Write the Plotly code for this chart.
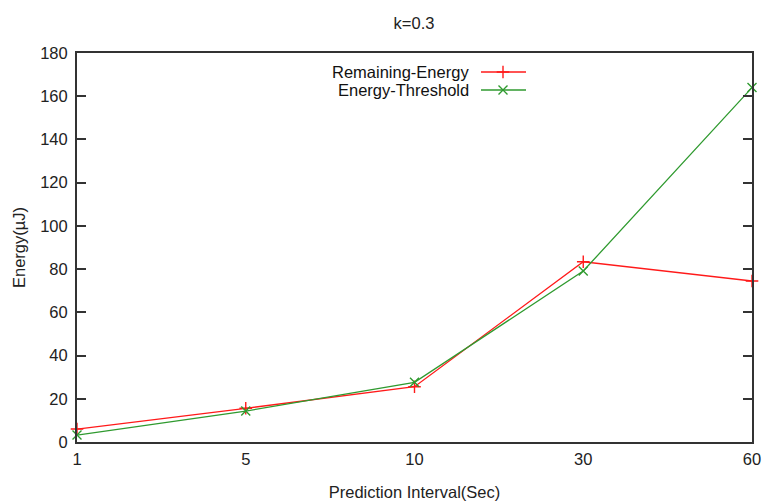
import plotly.graph_objects as go

categories = ["1", "5", "10", "30", "60"]
remaining_energy = [6.0, 15.6, 25.6, 83.4, 74.5]
energy_threshold = [3.2, 14.3, 27.6, 79.1, 164.0]
y_ticks = [0, 20, 40, 60, 80, 100, 120, 140, 160, 180]
series_names = ["Remaining-Energy", "Energy-Threshold"]

RED = "#ff1a1a"
GREEN = "#2f9a2f"
FONT = "Liberation Sans, Arial, sans-serif"
FS = 16.5

# body margin is removed by the post script, so the figure starts at the page corner
OFF = 0
FIG_W, FIG_H = 763, 501

fig = go.Figure()
fig.add_trace(go.Scatter(
    x=categories, y=remaining_energy, mode="lines+markers", name=series_names[0],
    line=dict(color=RED, width=1.3),
    marker=dict(symbol="cross-thin", size=9, line=dict(color=RED, width=1.4)),
    showlegend=False, cliponaxis=False))
fig.add_trace(go.Scatter(
    x=categories, y=energy_threshold, mode="lines+markers", name=series_names[1],
    line=dict(color=GREEN, width=1.3),
    marker=dict(symbol="x-thin", size=9, line=dict(color=GREEN, width=1.4)),
    showlegend=False, cliponaxis=False))

# legend (gnuplot style: text right-aligned, sample on its right)
# plot area spans x 77..752 and y 53..442 in page pixels
def px_x(p):
    return (p - 77) / (752 - 77)

def px_y(p):
    return (442 - p) / (442 - 53)

leg_rows = [72, 90]
for name, col, sym, row in zip(series_names, [RED, GREEN], ["cross-thin", "x-thin"], leg_rows):
    ly = px_y(row)
    fig.add_trace(go.Scatter(
        x=[px_x(481), px_x(526)], y=[ly, ly], xaxis="x2", yaxis="y2", mode="lines",
        line=dict(color=col, width=1.3), showlegend=False, hoverinfo="skip"))
    fig.add_trace(go.Scatter(
        x=[px_x(503)], y=[ly], xaxis="x2", yaxis="y2", mode="markers",
        marker=dict(symbol=sym, size=9, line=dict(color=col, width=1.4)),
        showlegend=False, hoverinfo="skip"))
    fig.add_annotation(x=px_x(471), y=ly, xref="x2", yref="y2", text=name,
                       showarrow=False, xanchor="right", yanchor="middle",
                       font=dict(family=FONT, size=FS, color="#111"))

fig.update_layout(
    width=FIG_W, height=FIG_H,
    margin=dict(l=77 - OFF, r=OFF + FIG_W - 752, t=53 - OFF, b=OFF + FIG_H - 442,
                autoexpand=False),
    paper_bgcolor="white", plot_bgcolor="white",
    font=dict(family=FONT, size=FS, color="#222"),
    title=dict(text="k=0.3", x=(414 - OFF) / FIG_W, xanchor="center",
               y=1 - (23 - OFF) / FIG_H, yanchor="middle",
               font=dict(family=FONT, size=FS, color="#222")),
    xaxis=dict(type="category", categoryorder="array", categoryarray=categories,
               range=[0, 4], showgrid=False, zeroline=False,
               showline=True, linecolor="#333", linewidth=2, mirror=True,
               ticks="", ticklabelstandoff=1,
               title=dict(text="Prediction Interval(Sec)", standoff=20,
                          font=dict(family=FONT, size=FS, color="#222"))),
    yaxis=dict(range=[0, 180], tickvals=y_ticks, showgrid=False, zeroline=False,
               showline=True, linecolor="#333", linewidth=2, mirror="ticks",
               ticks="inside", ticklen=9, tickcolor="#333", tickwidth=1.5,
               ticklabelstandoff=4,
               title=dict(text="Energy(µJ)", standoff=10,
                          font=dict(family=FONT, size=FS, color="#222"))),
    xaxis2=dict(range=[0, 1], overlaying="x", visible=False, fixedrange=True),
    yaxis2=dict(range=[0, 1], overlaying="y", visible=False, fixedrange=True),
)

fig.write_html(
    "out.html",
    config={"displayModeBar": False},
    post_script="document.body.style.margin='0';document.body.style.overflow='hidden';",
)
